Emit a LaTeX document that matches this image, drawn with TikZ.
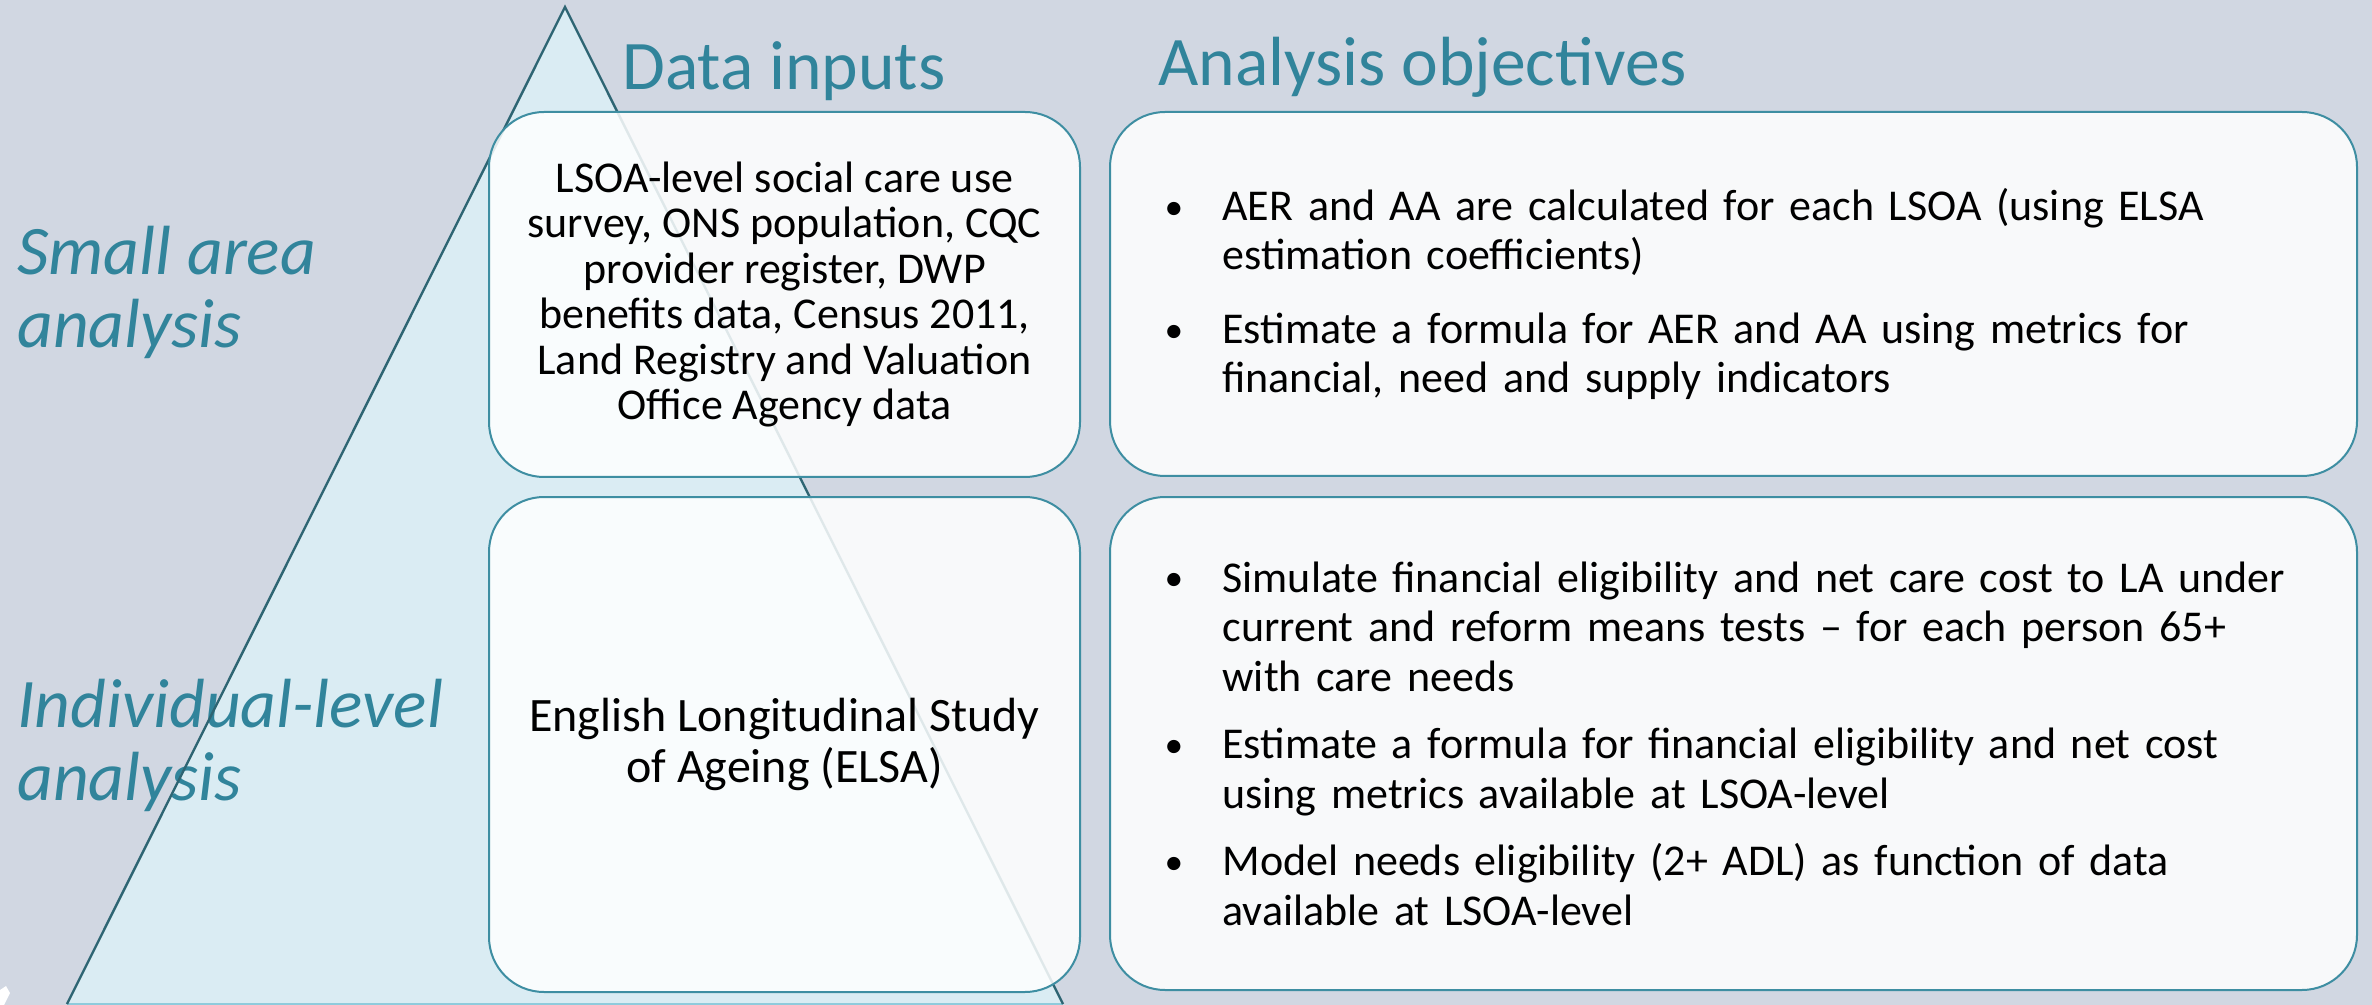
\documentclass[tikz,border=0pt]{standalone}
\usepackage{fontspec}
\setmainfont{Carlito}
\hyphenpenalty=10000
\exhyphenpenalty=10000
\definecolor{slidebg}{HTML}{D1D7E2}
\definecolor{trifill}{HTML}{DAECF3}
\definecolor{triedge}{HTML}{2E6573}
\definecolor{tribase}{HTML}{8FCBDC}
\definecolor{headteal}{HTML}{31849B}
\definecolor{boxedge}{HTML}{3E8EA2}
% one bulleted paragraph with a hanging indent
\newcommand{\bulletpar}[1]{\noindent\hangindent=32pt\hangafter=1\hspace*{3pt}\makebox[29pt][l]{\raisebox{0.6pt}{\scalebox{0.85}{\textbullet}}}#1\par}
\begin{document}
\begin{tikzpicture}[x=0.5pt,y=-0.5pt,
  heading/.style={anchor=base west,inner sep=0pt,text=headteal,font=\fontsize{34.8}{38}\selectfont},
  sidelabel/.style={anchor=base west,inner sep=0pt,text=headteal,font=\fontsize{34.8}{38}\selectfont\itshape},
  roundbox/.style={draw=boxedge,line width=1pt,fill=white,fill opacity=0.85,text opacity=1,
    rounded corners=27.5pt,inner sep=0pt},
  inputtext/.style={align=center,text=black},
  goaltext/.style={align=left,text=black,inner xsep=24.25pt,text width=575pt,
    font=\fontsize{22}{24.75}\selectfont}]
\useasboundingbox (0,0) rectangle (2372,1005);
\clip (0,0) rectangle (2372,1005);
\fill[slidebg] (0,0) rectangle (2372,1005);

% pyramid
\coordinate (apex) at (565,7);
\coordinate (baseL) at (67,1004);
\coordinate (baseR) at (1063,1004);
\fill[trifill] (apex) -- (baseL) -- (baseR) -- cycle;
\draw[tribase,line width=1pt] (baseL) -- (baseR);

% side labels
\node[sidelabel] (small1) at (17,275) {Small area};
\node[sidelabel] (small2) at (17,348) {analysis};
\node[sidelabel] (indiv1) at (17,727) {Individual-level};
\node[sidelabel] (indiv2) at (17,800) {analysis};

\draw[triedge,line width=1.2pt,line join=miter] (baseL) -- (apex) -- (baseR);

% small white mark in the corner
\fill[white] (0,990) -- (6,986) -- (10,993) -- (4,1005) -- (0,1005) -- cycle;

% headings
\node[heading] (hdata) at (622,90) {Data inputs};
\node[heading] (hgoal) at (1158,86) {Analysis objectives};

% data input boxes
\node[roundbox,minimum width=295.5pt,minimum height=182.5pt,inputtext,
  font=\fontsize{22}{22.7}\selectfont] (lsoa) at (784.5,294.5)
  {LSOA-level social care use\\survey, ONS population, CQC\\provider register, DWP\\benefits data, Census 2011,\\Land Registry and Valuation\\Office Agency data};
\node[roundbox,minimum width=295.5pt,minimum height=247.5pt,inputtext,
  font=\fontsize{24}{25.3}\selectfont] (elsa) at (784.5,744.5)
  {English Longitudinal Study\\of Ageing (ELSA)};

% objective boxes
\node[roundbox,minimum width=623.5pt,minimum height=182pt,goaltext] (goalsmall) at (1733.5,294)
  {\bulletpar{AER and AA are calculated for each LSOA (using ELSA\newline estimation coefficients)}
   \vspace{12pt}
   \bulletpar{Estimate a formula for AER and AA using metrics for\newline financial, need and supply indicators}};
\node[roundbox,minimum width=623.5pt,minimum height=246.5pt,goaltext] (goalindiv) at (1733.5,743.5)
  {\bulletpar{Simulate financial eligibility and net care cost to LA under\newline current and reform means tests -- for each person 65+\newline with care needs}
   \vspace{9pt}
   \bulletpar{Estimate a formula for financial eligibility and net cost\newline using metrics available at LSOA-level}
   \vspace{9pt}
   \bulletpar{Model needs eligibility (2+ ADL) as function of data\newline available at LSOA-level}};
\end{tikzpicture}
\end{document}
